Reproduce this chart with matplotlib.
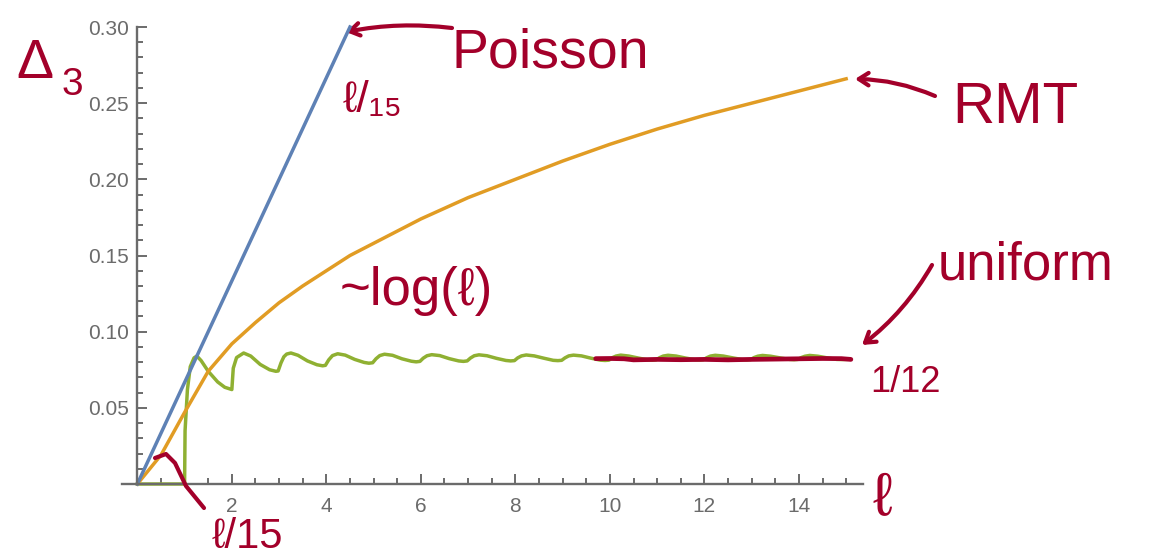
import matplotlib
matplotlib.use("Agg")
import matplotlib.pyplot as plt
from matplotlib.ticker import MultipleLocator
from matplotlib.lines import Line2D

# Poisson: straight line l/15
poisson_l = [0, 4.5]
poisson_d = [0, 0.30]

# RMT curve
rmt_l = [0, 0.5, 1.0, 1.5, 2.0, 2.5, 3.0, 3.5, 4.0, 4.5, 5.0, 6.0, 7.0, 8.0,
         9.0, 10.0, 11.0, 12.0, 13.0, 14.0, 15.0]
rmt_d = [0, 0.019, 0.047, 0.074, 0.092, 0.106, 0.119, 0.130, 0.140, 0.150,
         0.158, 0.174, 0.188, 0.200, 0.212, 0.223, 0.233, 0.242, 0.250,
         0.258, 0.266]

# uniform (picket fence) spectrum
uniform_l = [0, 0.99, 1.0, 1.01, 1.06, 1.12, 1.2, 1.26, 1.35, 1.5, 1.7, 1.85, 2.0,
             2.03, 2.1, 2.25, 2.4, 2.6, 2.8, 2.93, 2.98,
             3.04, 3.1, 3.16, 3.25, 3.4, 3.6, 3.8, 3.92, 3.98,
             4.05, 4.13, 4.24, 4.4, 4.6, 4.8, 4.9, 4.98,
             5.05, 5.13, 5.23, 5.4, 5.6, 5.8, 5.9, 5.98,
             6.05, 6.13, 6.23, 6.4, 6.6, 6.8, 6.9, 6.98,
             7.05, 7.13, 7.23, 7.4, 7.6, 7.8, 7.9, 7.98,
             8.05, 8.13, 8.23, 8.4, 8.6, 8.8, 8.9, 8.98,
             9.05, 9.13, 9.23, 9.4, 9.6, 9.8, 9.9, 9.98,
             10.05, 10.13, 10.23, 10.4, 10.6, 10.8, 10.9, 10.98,
             11.05, 11.13, 11.23, 11.4, 11.6, 11.8, 11.9, 11.98,
             12.05, 12.13, 12.23, 12.4, 12.6, 12.8, 12.9, 12.98,
             13.05, 13.13, 13.23, 13.4, 13.6, 13.8, 13.9, 13.98,
             14.05, 14.13, 14.23, 14.4, 14.6, 14.8, 14.9, 15.0]
uniform_d = [0, 0, 0.0, 0.035, 0.062, 0.077, 0.0828, 0.084, 0.081, 0.074, 0.067, 0.0635, 0.062,
             0.076, 0.083, 0.086, 0.084, 0.0785, 0.075, 0.074, 0.0742,
             0.0795, 0.0835, 0.0853, 0.086, 0.0845, 0.0808, 0.0783, 0.0776, 0.0779,
             0.0815, 0.0843, 0.0855, 0.0846, 0.0818, 0.0798, 0.0793, 0.0796,
             0.0822, 0.0843, 0.0852, 0.0845, 0.0822, 0.0806, 0.0802, 0.0805,
             0.0826, 0.0842, 0.0849, 0.0843, 0.0823, 0.0808, 0.0805, 0.0808,
             0.0827, 0.0842, 0.0848, 0.0842, 0.0825, 0.0811, 0.0808, 0.081,
             0.0828, 0.0841, 0.0847, 0.0841, 0.0826, 0.0812, 0.081, 0.0812,
             0.0828, 0.0841, 0.0846, 0.0841, 0.0826, 0.0813, 0.0811, 0.0813,
             0.0829, 0.084, 0.0846, 0.084, 0.0827, 0.0815, 0.0813, 0.0815,
             0.0829, 0.084, 0.0845, 0.084, 0.0827, 0.0816, 0.0814, 0.0816,
             0.0829, 0.084, 0.0845, 0.084, 0.0828, 0.0817, 0.0815, 0.0817,
             0.083, 0.0839, 0.0844, 0.0839, 0.0828, 0.0818, 0.0816, 0.0818,
             0.083, 0.0839, 0.0844, 0.0839, 0.0828, 0.0818, 0.0817, 0.0818]

# hand drawn 1/12 level
twelfth_l = [9.7, 10.0, 10.3, 10.5, 11.0, 11.5, 12.0, 12.5, 13.0, 13.5, 14.0, 14.5, 14.9, 15.1]
twelfth_d = [0.0823, 0.0824, 0.0822, 0.0815, 0.0818, 0.0816, 0.0818, 0.0815,
             0.0818, 0.0820, 0.0822, 0.0824, 0.0823, 0.0818]

yticks = [0.05, 0.10, 0.15, 0.20, 0.25, 0.30]
xticks = [2, 4, 6, 8, 10, 12, 14]

W, H = 1165, 558
red = '#A3002A'
gray = '#6b6b6b'
hand = ['Liberation Sans', 'DejaVu Sans']


def px(x, y):
    return x / W, 1 - y / H


fig = plt.figure(figsize=(W / 100, H / 100), dpi=100)
ax = fig.add_axes([0.1045, 0.1326, 0.636, 0.819])

ax.plot(uniform_l, uniform_d, color='#8FB032', lw=2.5, solid_joinstyle='round', zorder=3, clip_on=False)
ax.plot(rmt_l, rmt_d, color='#E19C24', lw=2.5, zorder=4, clip_on=False)
ax.plot(poisson_l, poisson_d, color='#5E81B5', lw=2.5, zorder=5, clip_on=False)
ax.plot(twelfth_l, twelfth_d, color=red, lw=3.4, solid_capstyle='round', zorder=6, clip_on=False)

ax.set_xlim(-0.33, 15.35)
ax.set_ylim(0, 0.30)
for s in ['top', 'right']:
    ax.spines[s].set_visible(False)
ax.spines['left'].set_position(('data', 0))
ax.spines['bottom'].set_position(('data', 0))
for s in ['left', 'bottom']:
    ax.spines[s].set_color(gray)
    ax.spines[s].set_linewidth(1.7)
    ax.spines[s].set_zorder(7)

ax.set_xticks(xticks)
ax.set_xticklabels([str(t) for t in xticks])
ax.set_yticks(yticks)
ax.set_yticklabels(['%.2f' % t for t in yticks])
ax.xaxis.set_minor_locator(MultipleLocator(0.5))
ax.yaxis.set_minor_locator(MultipleLocator(0.01))
ax.tick_params(which='both', direction='in', color=gray, width=1.4, labelcolor=gray)
ax.tick_params(which='major', length=7.5, labelsize=15)
ax.tick_params(which='minor', length=4.5)
ax.tick_params(axis='x', which='major', pad=9)
ax.tick_params(axis='y', which='major', pad=6)
for lab in ax.get_xticklabels() + ax.get_yticklabels():
    lab.set_fontfamily('Liberation Sans')

# handwritten notes
fig.text(*px(16, 78), 'Δ', color=red, fontsize=40, family=hand, va='baseline')
fig.text(*px(62, 95), '3', color=red, fontsize=28, family=hand, va='baseline')
fig.text(*px(452, 68), 'Poisson', color=red, fontsize=40, family=hand, va='baseline')
fig.text(*px(343, 112), 'ℓ/₁₅', color=red, fontsize=32, family=hand, va='baseline')
fig.text(*px(952, 123), 'RMT', color=red, fontsize=42, family=hand, va='baseline')
fig.text(*px(340, 305), '~log(ℓ)', color=red, fontsize=38, family=hand, va='baseline')
fig.text(*px(938, 280), 'uniform', color=red, fontsize=38, family=hand, va='baseline')
fig.text(*px(870, 392), '1/12', color=red, fontsize=26, family=hand, va='baseline')
fig.text(*px(872, 515), 'ℓ', color=red, fontsize=44, family=hand, va='baseline')
fig.text(*px(212, 548), 'ℓ/15', color=red, fontsize=30, family=hand, va='baseline')

arrow = dict(arrowstyle='->,head_length=0.7,head_width=0.45', color=red, lw=3.0,
             shrinkA=0, shrinkB=0)
ax.annotate('', xy=px(346, 32), xycoords='figure fraction', xytext=px(452, 28),
            textcoords='figure fraction',
            arrowprops=dict(arrow, connectionstyle='arc3,rad=0.08'))
ax.annotate('', xy=px(855, 79), xycoords='figure fraction', xytext=px(935, 96),
            textcoords='figure fraction',
            arrowprops=dict(arrow, connectionstyle='arc3,rad=0.1'))
ax.annotate('', xy=px(862, 345), xycoords='figure fraction', xytext=px(932, 265),
            textcoords='figure fraction',
            arrowprops=dict(arrow, connectionstyle='arc3,rad=-0.1'))

hook = [px(155, 458), px(166, 454), px(175, 463), px(186, 486), px(204, 508)]
fig.add_artist(Line2D([p[0] for p in hook], [p[1] for p in hook], color=red, lw=3.0,
                      solid_capstyle='round', transform=fig.transFigure))

fig.savefig('out.png', dpi=100)
